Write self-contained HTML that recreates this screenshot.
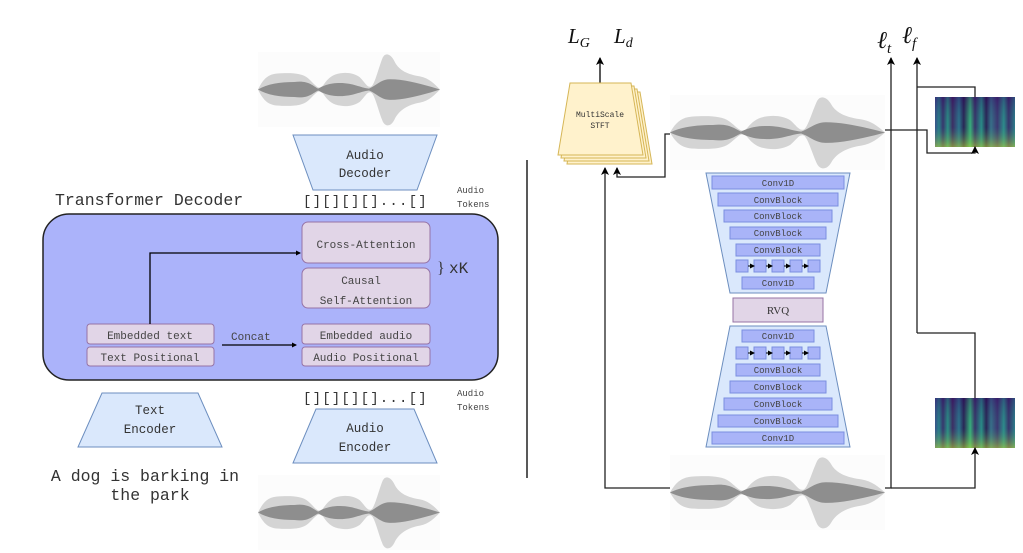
<!DOCTYPE html>
<html><head><meta charset="utf-8"><style>
body{margin:0;background:#fff;width:1023px;height:553px;overflow:hidden}
svg{display:block}
text{font-family:"Liberation Mono",monospace;fill:#333}
.t{font-size:11px;fill:#444}
.b{font-size:9px;fill:#444}
.m{font-family:"Liberation Serif",serif;font-style:italic;fill:#111}
</style></head><body>
<svg width="1023" height="553" viewBox="0 0 1023 553" xmlns="http://www.w3.org/2000/svg">
<defs>
<symbol id="wave" viewBox="0 0 200 80" preserveAspectRatio="none">
<rect x="0" y="0" width="200" height="80" fill="#fcfcfc"/>
<path fill="#d4d4d4" d="M0,40 C5,30 10,24 20,23 C35,22 48,22 55,28 C62,34 64,38 68,38 C72,38 74,28 85,24 C95,21 105,22 112,27 C118,33 120,38 124,37 C128,36 132,18 137,6 C140,0 146,2 150,10 C155,20 165,24 178,26 C188,28 194,34 200,40 C194,46 188,52 178,54 C165,56 155,62 150,72 C146,80 140,80 137,74 C132,62 128,44 124,43 C120,42 118,47 112,53 C105,58 95,59 85,56 C74,52 72,42 68,42 C64,42 62,46 55,52 C48,58 35,58 20,57 C10,56 5,50 0,40Z"/>
<path fill="#8e8e8e" d="M0,40 C10,34 25,32 40,32 C55,30 60,36 66,39 C72,36 78,33 90,33 C105,33 112,38 122,39 C130,36 135,29 145,29 C160,29 175,33 190,37 L200,40 L190,43 C175,47 160,51 145,51 C135,51 130,44 122,41 C112,42 105,47 90,47 C78,47 72,44 66,41 C60,44 55,50 40,48 C25,48 10,46 0,40Z"/>
</symbol>
<linearGradient id="sp" x1="0" x2="1" y1="0" y2="0">
<stop offset="0" stop-color="#3b4a8a"/><stop offset="0.05" stop-color="#2a7a8a"/><stop offset="0.1" stop-color="#3a2a6a"/><stop offset="0.16" stop-color="#2c8a86"/><stop offset="0.22" stop-color="#402060"/><stop offset="0.3" stop-color="#2e6f8e"/><stop offset="0.36" stop-color="#2a1850"/><stop offset="0.44" stop-color="#3ab07a"/><stop offset="0.5" stop-color="#3a2866"/><stop offset="0.58" stop-color="#2a8a88"/><stop offset="0.64" stop-color="#2a1850"/><stop offset="0.7" stop-color="#3a6a8a"/><stop offset="0.78" stop-color="#402c70"/><stop offset="0.86" stop-color="#2e8a8c"/><stop offset="0.92" stop-color="#3a2a6a"/><stop offset="1" stop-color="#2e7a8c"/>
</linearGradient>
<linearGradient id="spv" x1="0" x2="0" y1="0" y2="1">
<stop offset="0" stop-color="#300060" stop-opacity="0.35"/><stop offset="0.6" stop-color="#20a080" stop-opacity="0.1"/><stop offset="1" stop-color="#c0e030" stop-opacity="0.55"/>
</linearGradient>
<marker id="ar" markerWidth="8" markerHeight="8" refX="7" refY="4" orient="auto" markerUnits="userSpaceOnUse"><path d="M0,0 L8,4 L0,8 L2,4z" fill="#000"/></marker>
<marker id="as" markerWidth="5" markerHeight="5" refX="4" refY="2.5" orient="auto" markerUnits="userSpaceOnUse"><path d="M0,0 L5,2.5 L0,5z" fill="#000"/></marker>
</defs>

<!-- LEFT -->
<use href="#wave" x="258" y="52" width="182" height="75"/>
<polygon points="293,135 437,135 417,190 313,190" fill="#dae8fc" stroke="#6c8ebf"/>
<text x="365" y="159" font-size="12.5" text-anchor="middle">Audio</text>
<text x="365" y="177" font-size="12.5" text-anchor="middle">Decoder</text>
<text x="303" y="205" font-size="14" style="letter-spacing:1.2px">[][][][]...[]</text>
<text x="457" y="193" class="b">Audio</text><text x="457" y="207" class="b">Tokens</text>
<text x="55" y="205" font-size="16.5">Transformer Decoder</text>
<rect x="43" y="214" width="455" height="166" rx="26" fill="#abb3fa" stroke="#222" stroke-width="1.5"/>
<g fill="#e1d5e7" stroke="#9673a6">
<rect x="302" y="222" width="128" height="41" rx="6"/>
<rect x="302" y="268" width="128" height="40" rx="6"/>
<rect x="87" y="324" width="127" height="20" rx="3"/>
<rect x="87" y="347" width="127" height="19" rx="3"/>
<rect x="302" y="324" width="128" height="20" rx="3"/>
<rect x="302" y="347" width="128" height="19" rx="3"/>
</g>
<text x="366" y="248" class="t" text-anchor="middle">Cross-Attention</text>
<text x="361" y="284" class="t" text-anchor="middle">Causal</text>
<text x="366" y="304" class="t" text-anchor="middle">Self-Attention</text>
<text x="150" y="339" class="t" text-anchor="middle">Embedded text</text>
<text x="150" y="361" class="t" text-anchor="middle">Text Positional</text>
<text x="366" y="339" class="t" text-anchor="middle">Embedded audio</text>
<text x="366" y="361" class="t" text-anchor="middle">Audio Positional</text>
<text x="437" y="273" font-size="16" style="font-family:'Liberation Serif',serif" fill="#222">}</text>
<text x="449" y="273" font-size="16" fill="#222">xK</text>
<path d="M150,324 V253 H300" fill="none" stroke="#000" stroke-width="1.3" marker-end="url(#as)"/>
<text x="231" y="340" class="t">Concat</text>
<path d="M222,345 H296" stroke="#000" stroke-width="1.3" marker-end="url(#as)"/>
<text x="303" y="402" font-size="14" style="letter-spacing:1.2px">[][][][]...[]</text>
<text x="457" y="396" class="b">Audio</text><text x="457" y="410" class="b">Tokens</text>
<polygon points="102,393 198,393 222,447 78,447" fill="#dae8fc" stroke="#6c8ebf"/>
<text x="150" y="414" font-size="12.5" text-anchor="middle">Text</text>
<text x="150" y="433" font-size="12.5" text-anchor="middle">Encoder</text>
<polygon points="316,409 414,409 437,463 293,463" fill="#dae8fc" stroke="#6c8ebf"/>
<text x="365" y="432" font-size="12.5" text-anchor="middle">Audio</text>
<text x="365" y="451" font-size="12.5" text-anchor="middle">Encoder</text>
<text x="145" y="481" font-size="16.5" text-anchor="middle">A dog is barking in</text>
<text x="150" y="500" font-size="16.5" text-anchor="middle">the park</text>
<use href="#wave" x="258" y="475" width="182" height="75"/>
<line x1="527" y1="160" x2="527" y2="478" stroke="#222" stroke-width="1.5"/>

<!-- RIGHT -->
<text x="568" y="43" font-size="21" class="m">L<tspan font-size="14" dy="4">G</tspan></text>
<text x="614" y="43" font-size="21" class="m">L<tspan font-size="14" dy="4">d</tspan></text>
<path d="M600,83 V58" stroke="#000" stroke-width="1.3" marker-end="url(#ar)"/>
<g fill="#fff2cc" stroke="#d6b656">
<polygon points="579,92 640,92 652,164 567,164"/>
<polygon points="576,89 637,89 649,161 564,161"/>
<polygon points="573,86 634,86 646,158 561,158"/>
<polygon points="570,83 631,83 643,155 558,155"/>
</g>
<text x="600" y="117" font-size="8" text-anchor="middle" fill="#555">MultiScale</text>
<text x="600" y="128" font-size="8" text-anchor="middle" fill="#555">STFT</text>
<use href="#wave" x="670" y="95" width="215" height="75"/>
<use href="#wave" x="670" y="455" width="215" height="75"/>
<path d="M670,488 H605 V168" fill="none" stroke="#222" stroke-width="1.3" marker-end="url(#ar)"/>
<path d="M670,134 H665 V177 H617 V168" fill="none" stroke="#222" stroke-width="1.3" marker-end="url(#ar)"/>
<path d="M885,488 H891 V58" fill="none" stroke="#222" stroke-width="1.3" marker-end="url(#ar)"/>
<path d="M917,333 V58" fill="none" stroke="#222" stroke-width="1.3" marker-end="url(#ar)"/>
<text x="877" y="48" font-size="24" class="m">ℓ<tspan font-size="15" dy="5">t</tspan></text>
<text x="902" y="43" font-size="24" class="m">ℓ<tspan font-size="15" dy="5">f</tspan></text>
<rect x="935" y="97" width="80" height="50" fill="url(#sp)"/><rect x="935" y="97" width="80" height="50" fill="url(#spv)"/>
<rect x="935" y="398" width="80" height="50" fill="url(#sp)"/><rect x="935" y="398" width="80" height="50" fill="url(#spv)"/>
<path d="M917,87 H975 V97" fill="none" stroke="#222" stroke-width="1.3"/>
<path d="M885,130 H927 V153 H975 V147" fill="none" stroke="#222" stroke-width="1.3" marker-end="url(#ar)"/>
<path d="M917,333 H975 V398" fill="none" stroke="#222" stroke-width="1.3"/>
<path d="M891,488 H975 V448" fill="none" stroke="#222" stroke-width="1.3" marker-end="url(#ar)"/>

<polygon points="706,173 850,173 826,293 730,293" fill="#dae8fc" stroke="#6c8ebf"/>
<polygon points="730,326 826,326 850,447 706,447" fill="#dae8fc" stroke="#6c8ebf"/>
<g fill="#a9b4f8" stroke="#7a8ee0">
<rect x="712" y="176" width="132" height="13"/>
<rect x="718" y="193" width="120" height="13"/>
<rect x="724" y="210" width="108" height="12"/>
<rect x="730" y="227" width="96" height="12"/>
<rect x="736" y="244" width="84" height="12"/>
<rect x="736" y="260" width="12" height="12"/><rect x="754" y="260" width="12" height="12"/><rect x="772" y="260" width="12" height="12"/><rect x="790" y="260" width="12" height="12"/><rect x="808" y="260" width="12" height="12"/>
<rect x="742" y="277" width="72" height="12"/>
<rect x="742" y="330" width="72" height="12"/>
<rect x="736" y="347" width="12" height="12"/><rect x="754" y="347" width="12" height="12"/><rect x="772" y="347" width="12" height="12"/><rect x="790" y="347" width="12" height="12"/><rect x="808" y="347" width="12" height="12"/>
<rect x="736" y="364" width="84" height="12"/>
<rect x="730" y="381" width="96" height="12"/>
<rect x="724" y="398" width="108" height="12"/>
<rect x="718" y="415" width="120" height="12"/>
<rect x="712" y="432" width="132" height="12"/>
</g>
<g stroke="#000" stroke-width="1" marker-end="url(#as)">
<path d="M748,266 H754"/><path d="M766,266 H772"/><path d="M784,266 H790"/><path d="M802,266 H808"/>
<path d="M748,353 H754"/><path d="M766,353 H772"/><path d="M784,353 H790"/><path d="M802,353 H808"/>
</g>
<g text-anchor="middle">
<text x="778" y="186" class="b">Conv1D</text>
<text x="778" y="203" class="b">ConvBlock</text>
<text x="778" y="219" class="b">ConvBlock</text>
<text x="778" y="236" class="b">ConvBlock</text>
<text x="778" y="253" class="b">ConvBlock</text>
<text x="778" y="286" class="b">Conv1D</text>
<text x="778" y="339" class="b">Conv1D</text>
<text x="778" y="373" class="b">ConvBlock</text>
<text x="778" y="390" class="b">ConvBlock</text>
<text x="778" y="407" class="b">ConvBlock</text>
<text x="778" y="424" class="b">ConvBlock</text>
<text x="778" y="441" class="b">Conv1D</text>
</g>
<rect x="733" y="298" width="90" height="24" fill="#e1d5e7" stroke="#9673a6"/>
<text x="778" y="314" font-size="11" text-anchor="middle" style="font-family:'Liberation Serif',serif" fill="#444">RVQ</text>
</svg>
</body></html>
